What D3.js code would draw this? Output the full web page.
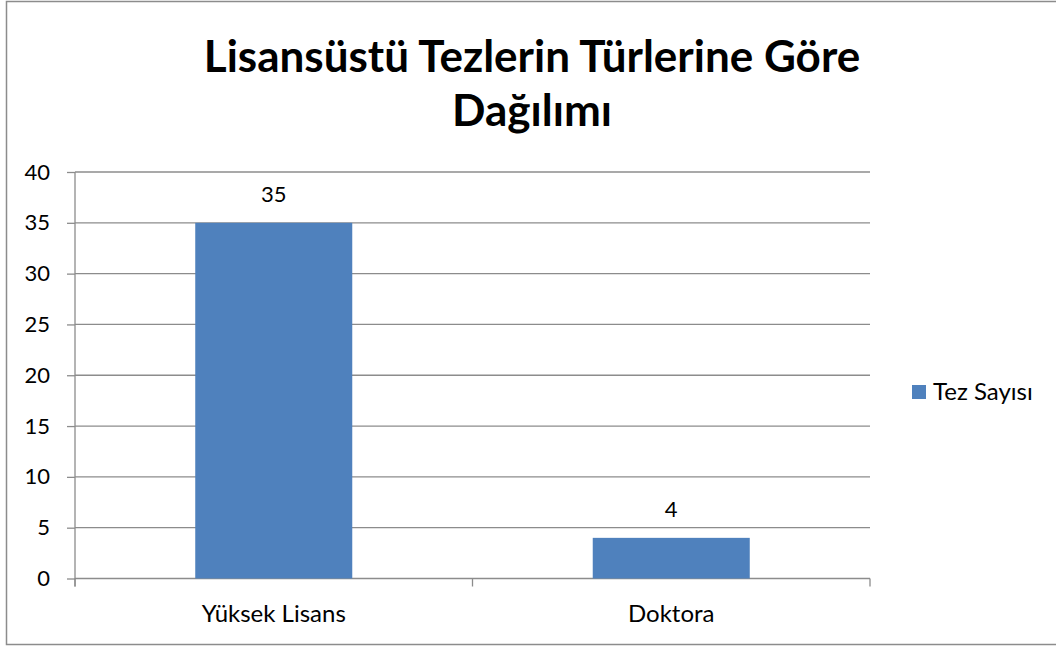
<!DOCTYPE html>
<html>
<head>
<meta charset="utf-8">
<script src="https://cdn.jsdelivr.net/npm/d3@7"></script>
<style>
  body { margin: 0; background: #fff; }
  text { font-family: Lato, "Open Sans", sans-serif; fill: #000; }
</style>
</head>
<body>
<script>
// data
var categories = ["Yüksek Lisans", "Doktora"];
var values = [35, 4];
var seriesName = "Tez Sayısı";
var yTicks = [0, 5, 10, 15, 20, 25, 30, 35, 40];
var titleLines = ["Lisansüstü Tezlerin Türlerine Göre", "Dağılımı"];

var width = 1056, height = 646;
var plot = { left: 75, right: 870, top: 172, bottom: 578.5 };
var barColor = "#4f81bd";
var gridColor = "#8c8c8c";

var svg = d3.select("body").append("svg")
  .attr("width", width)
  .attr("height", height);

// outer chart border
svg.append("rect")
  .attr("x", 6.5).attr("y", 1.5)
  .attr("width", 1060).attr("height", 643)
  .attr("fill", "none")
  .attr("stroke", gridColor)
  .attr("stroke-width", 1.5);

var x = d3.scaleBand()
  .domain(categories)
  .range([plot.left, plot.right])
  .padding(0);

var y = d3.scaleLinear()
  .domain([0, 40])
  .range([plot.bottom, plot.top]);

// gridlines
svg.append("g").selectAll("line").data(yTicks.filter(function(d) { return d > 0; }))
  .enter().append("line")
  .attr("x1", plot.left).attr("x2", plot.right)
  .attr("y1", function(d) { return y(d); })
  .attr("y2", function(d) { return y(d); })
  .attr("stroke", gridColor)
  .attr("stroke-width", 1.3);

// y axis
var yAxis = svg.append("g")
  .attr("transform", "translate(" + plot.left + ",0)")
  .call(d3.axisLeft(y).tickValues(yTicks).tickSize(8).tickPadding(17));
yAxis.select(".domain").attr("stroke", gridColor).attr("stroke-width", 1.3)
  .attr("d", "M0," + (plot.bottom + 8) + "V" + plot.top);
yAxis.selectAll(".tick line").attr("stroke", gridColor).attr("stroke-width", 1.3);
yAxis.selectAll(".tick text")
  .style("font-family", "Lato, 'Open Sans', sans-serif")
  .style("font-size", "22px")
  .attr("fill", "#000");

// x axis: ticks sit at the band edges
var xAxisG = svg.append("g");
xAxisG.append("line")
  .attr("x1", plot.left).attr("x2", plot.right)
  .attr("y1", plot.bottom).attr("y2", plot.bottom)
  .attr("stroke", gridColor).attr("stroke-width", 1.3);
var edges = categories.map(function(c) { return x(c); }).concat([x(categories[categories.length - 1]) + x.bandwidth()]);
xAxisG.selectAll("line.edge").data(edges).enter().append("line")
  .attr("class", "edge")
  .attr("x1", function(d) { return d; }).attr("x2", function(d) { return d; })
  .attr("y1", plot.bottom).attr("y2", plot.bottom + 8)
  .attr("stroke", gridColor).attr("stroke-width", 1.3);
xAxisG.selectAll("text").data(categories).enter().append("text")
  .attr("x", function(d) { return x(d) + x.bandwidth() / 2; })
  .attr("y", 622)
  .attr("text-anchor", "middle")
  .style("font-size", "24px")
  .text(function(d) { return d; });

// bars
var barW = x.bandwidth() * 0.395;
svg.append("g").selectAll("rect").data(values)
  .enter().append("rect")
  .attr("x", function(d, i) { return x(categories[i]) + (x.bandwidth() - barW) / 2; })
  .attr("y", function(d) { return y(d); })
  .attr("width", barW)
  .attr("height", function(d) { return y(0) - y(d); })
  .attr("fill", barColor);

// value labels
svg.append("g").selectAll("text").data(values)
  .enter().append("text")
  .attr("x", function(d, i) { return x(categories[i]) + x.bandwidth() / 2; })
  .attr("y", function(d) { return y(d) - 21; })
  .attr("text-anchor", "middle")
  .style("font-size", "22px")
  .text(function(d) { return d; });

// title
svg.append("g").selectAll("text").data(titleLines)
  .enter().append("text")
  .attr("x", 532)
  .attr("y", function(d, i) { return 72 + i * 54; })
  .attr("text-anchor", "middle")
  .style("font-size", "44px")
  .style("font-weight", "bold")
  .text(function(d) { return d; });

// legend
var legend = svg.append("g").attr("transform", "translate(912,385)");
legend.append("rect").attr("width", 14).attr("height", 14).attr("fill", barColor);
legend.append("text")
  .attr("x", 21).attr("y", 15)
  .style("font-size", "24px")
  .text(seriesName);
</script>
</body>
</html>
